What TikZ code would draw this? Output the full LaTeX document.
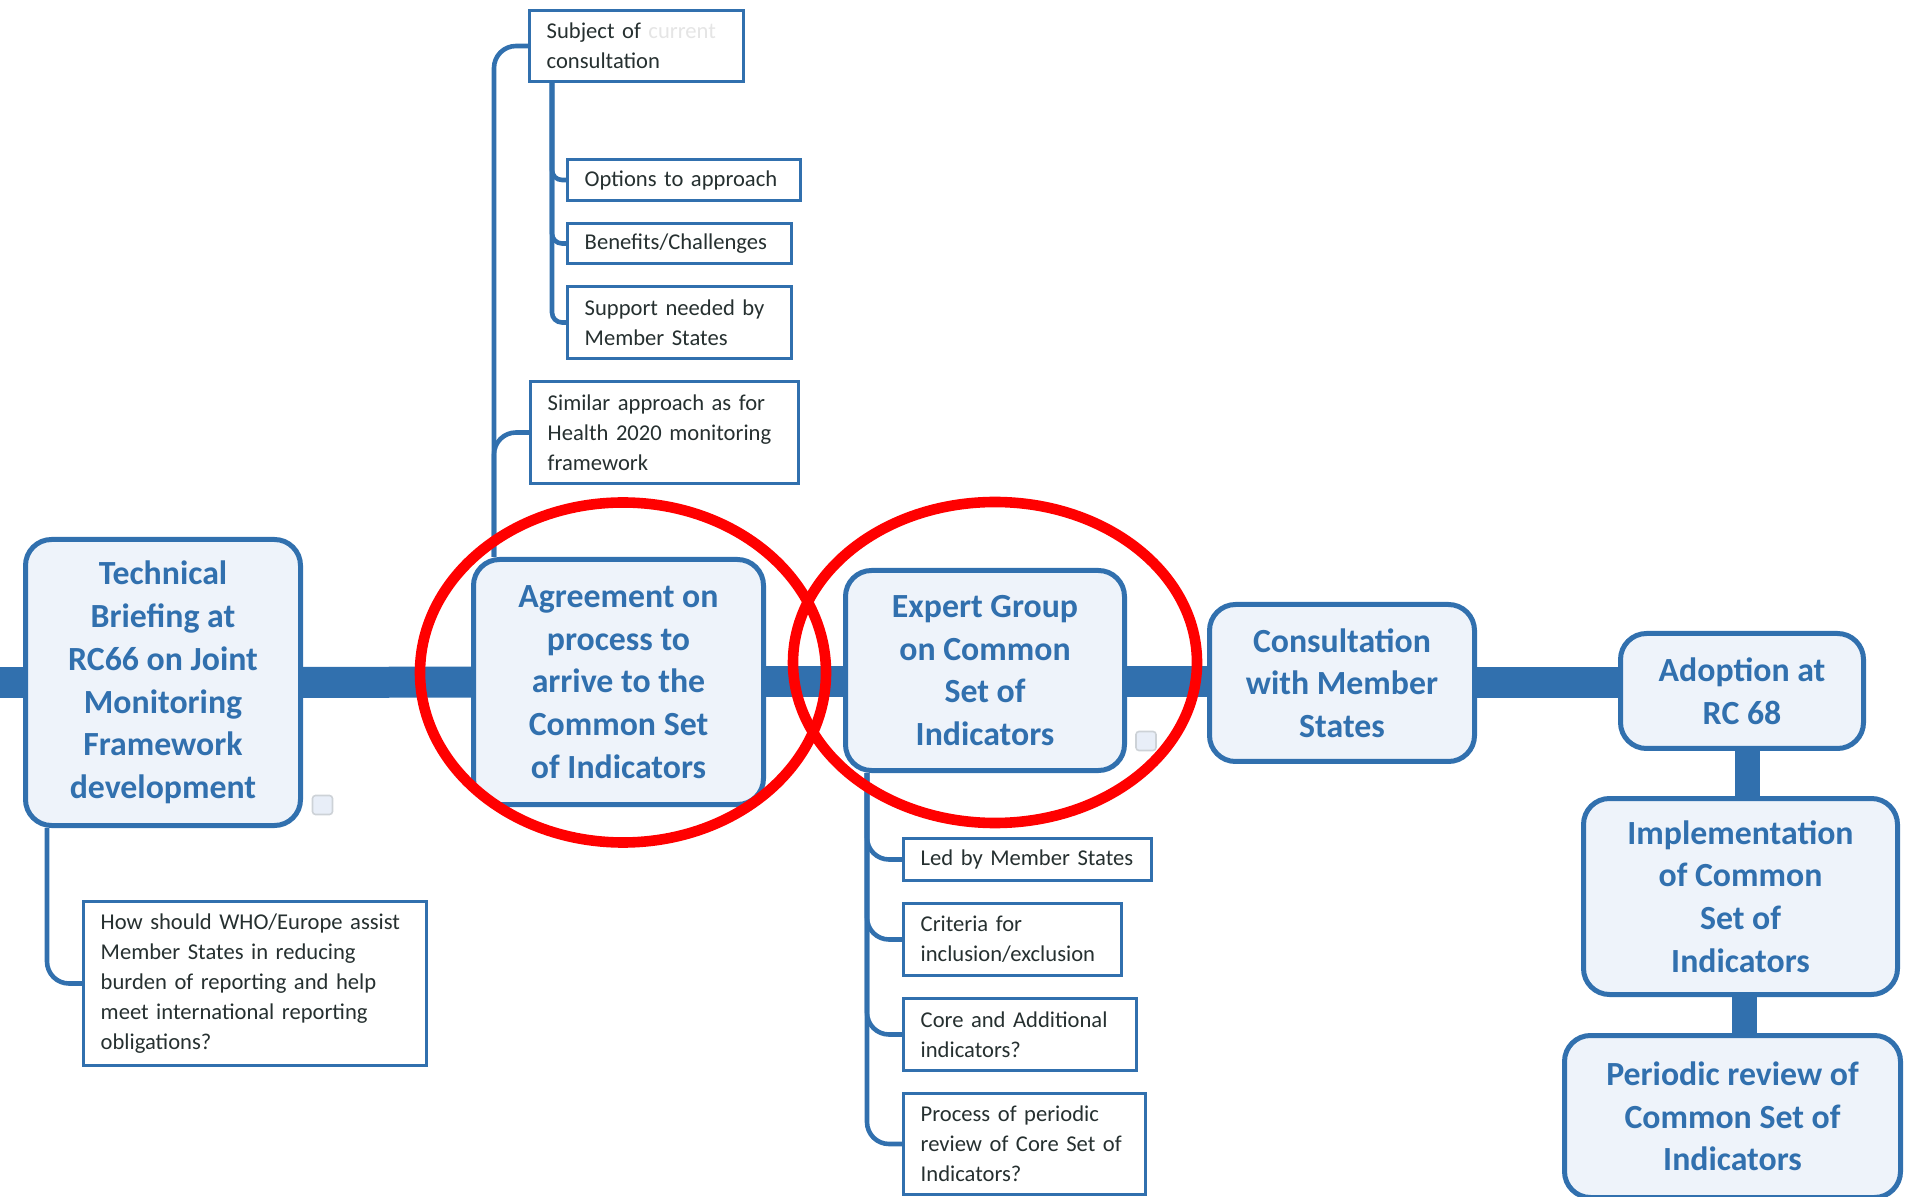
\documentclass[tikz,border=0pt]{standalone}
\usepackage{fontspec}
\setmainfont{Carlito}
\usepackage{xcolor}
\usepackage{tikz}
\usetikzlibrary{positioning,backgrounds}

\definecolor{wblue}{RGB}{49,112,174}
\definecolor{stagefill}{RGB}{238,243,250}
\definecolor{itemtext}{RGB}{38,48,48}
\definecolor{ringred}{RGB}{255,0,0}
\definecolor{iconline}{RGB}{205,210,215}
\definecolor{iconfill}{RGB}{232,238,248}

\newcommand{\stagefont}{\fontsize{16.9}{21.35}\selectfont\bfseries}
\newcommand{\itemfont}{\fontsize{11.3}{15}\selectfont}

\tikzset{
  stage/.style={draw=wblue, line width=2.5pt, rounded corners=13pt, fill=stagefill, text=wblue, font=\stagefont, align=center, inner sep=2pt},
  item/.style={draw=wblue, line width=1.7pt, fill=white, text=itemtext, font=\itemfont, align=left, inner xsep=8.5pt, inner ysep=2pt},
  mainbar/.style={draw=wblue, line width=15.5pt},
  link/.style={draw=wblue, line width=12.5pt},
  branch/.style={draw=wblue, line width=2.3pt, rounded corners=11pt},
  twig/.style={draw=wblue, line width=2.3pt, rounded corners=5pt},
  ring/.style={draw=ringred, line width=5.3pt},
  toggle/.style={draw=iconline, line width=0.8pt, fill=iconfill, rounded corners=1.5pt, minimum width=10pt, minimum height=9.5pt, inner sep=0pt}
}

\begin{document}
\begin{tikzpicture}[x=0.5pt, y=-0.5pt, node distance=10pt]

\useasboundingbox (0,0) rectangle (1907,1197);

% 1. Main chain of stages
\node[stage, minimum width=137.5pt, minimum height=143pt] (tech) at (163,682.5) {Technical\\Briefing at\\RC66 on Joint\\Monitoring\\Framework\\development};
\node[stage, minimum width=145pt, minimum height=122.5pt] (agree) at (618.5,682) {Agreement on\\process to\\arrive to the\\Common Set\\of Indicators};
\node[stage, minimum width=139.5pt, minimum height=100pt] (expert) at (985,670.5) {Expert Group\\on Common\\Set of\\Indicators};
\node[stage, minimum width=132.5pt, minimum height=78.5pt] (consult) at (1342,683) {Consultation\\with Member\\States};
\node[stage, minimum width=121.5pt, minimum height=57.5pt] (adopt) at (1742,691) {Adoption at\\RC 68};
\node[stage, minimum width=157pt, minimum height=98pt, below=22.5pt of adopt, xshift=-0.75pt] (impl) {Implementation\\of Common\\Set of\\Indicators};
\node[stage, minimum width=168pt, minimum height=81pt, below=18pt of impl, xshift=-4pt] (period) {Periodic review of\\Common Set of\\Indicators};

% 2. Sub-items above the agreement
\node[item, anchor=north west, text width=89.8pt, minimum height=35.3pt] (subject) at (528,9) {Subject of {\color{black!10}current}\\consultation};
\node[item, below=37.5pt of subject.south west, anchor=north west, xshift=19pt, text width=99.3pt, minimum height=20.3pt] (options) {Options to approach};
\node[item, below=of options.south west, anchor=north west, text width=94.8pt, minimum height=19.8pt] (benefits) {Benefits/Challenges};
\node[item, below=of benefits.south west, anchor=north west, text width=94.8pt, minimum height=35.8pt] (support) {Support needed by\\Member States};
\node[item, below=of support.south west, anchor=north west, xshift=-18.5pt, text width=116.8pt, minimum height=50.8pt] (similar) {Similar approach as for\\Health 2020 monitoring\\framework};

% 3. Sub-items below the briefing and the expert group
\node[item, below=36pt of tech.south west, anchor=north west, xshift=29.5pt, text width=154.3pt, minimum height=81.8pt] (how) {How should WHO/Europe assist\\Member States in reducing\\burden of reporting and help\\meet international reporting\\obligations?};
\node[item, below=32pt of expert.south west, anchor=north west, xshift=29.5pt, text width=106.8pt, minimum height=20.8pt] (led) {Led by Member States};
\node[item, below=of led.south west, anchor=north west, text width=91.8pt, minimum height=35.8pt] (crit) {Criteria for\\inclusion/exclusion};
\node[item, below=of crit.south west, anchor=north west, text width=99.3pt, minimum height=35.8pt] (core) {Core and Additional\\indicators?};
\node[item, below=of core.south west, anchor=north west, text width=103.8pt, minimum height=50.3pt] (proc) {Process of periodic\\review of Core Set of\\Indicators?};

% 4. Collapse toggles
\node[toggle] (techtoggle) at (322.5,805) {};
\node[toggle] (experttoggle) at (1146,741) {};

% 5. Connections
\coordinate (barstart) at (0,682.5);
\coordinate (atrunk) at ([xshift=11.5pt]agree.north west);
\coordinate (strunk) at ([xshift=12pt]subject.south west);
\coordinate (ttrunk) at ([xshift=12pt]tech.south west);
\coordinate (etrunk) at ([xshift=12pt]expert.south west);

\begin{scope}[on background layer]
\draw[mainbar] (barstart) -- (tech);
\draw[mainbar] (tech) -- (agree);
\draw[mainbar] (agree.east) -- (agree.east -| expert.west);
\draw[mainbar] (expert.east |- agree.east) -- (agree.east -| consult.west);
\draw[mainbar] (consult.east) -- (consult.east -| adopt.west);
\draw[link] ([xshift=2.75pt]adopt.south) -- ([xshift=2.75pt]adopt.south |- impl.north);
\draw[link] ([xshift=1.75pt]impl.south) -- ([xshift=1.75pt]impl.south |- period.north);

\draw[branch] (atrunk) |- (subject.west);
\draw[branch] (atrunk) |- (similar.west);
\draw[twig] (strunk) |- (options.west);
\draw[twig] (strunk) |- (benefits.west);
\draw[twig] (strunk) |- (support.west);
\draw[branch] (ttrunk) |- (how.west);
\draw[branch] (etrunk) |- (led.west);
\draw[branch] (etrunk) |- (crit.west);
\draw[branch] (etrunk) |- (core.west);
\draw[branch] (etrunk) |- (proc.west);
\end{scope}

% 6. Highlight rings
\draw[ring] (623,672.5) ellipse [x radius=101.5pt, y radius=85pt];
\draw[ring] (995,662.5) ellipse [x radius=101pt, y radius=80.25pt];

\end{tikzpicture}
\end{document}
